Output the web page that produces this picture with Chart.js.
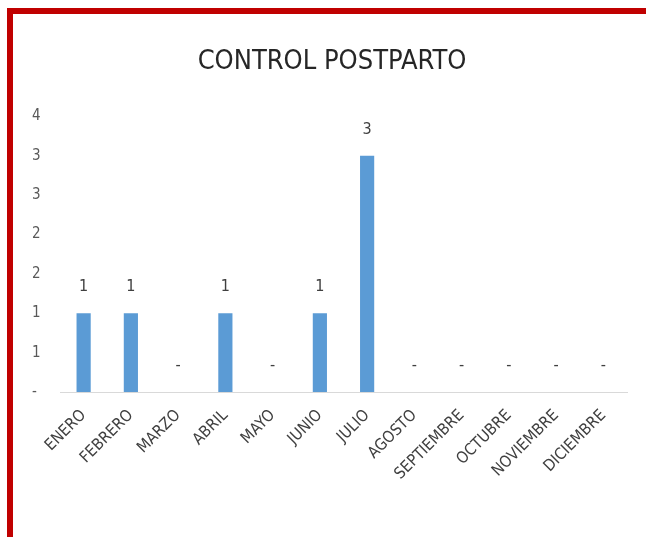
<!DOCTYPE html>
<html>
<head>
<meta charset="utf-8">
<script src="https://cdn.jsdelivr.net/npm/chart.js@4"></script>
<style>
  html, body { margin: 0; padding: 0; background: #fff; }
  #frame {
    position: absolute; left: 7px; top: 8px; width: 639px; height: 529px;
    border-left: 6px solid #c00000; border-top: 6px solid #c00000;
    box-sizing: border-box;
  }
  #wrap { position: absolute; left: 0; top: 0; width: 646px; height: 537px; }
</style>
</head>
<body>
<div id="frame"></div>
<div id="wrap"><canvas id="chart" width="646" height="537"></canvas></div>
<script>
const months = ['ENERO', 'FEBRERO', 'MARZO', 'ABRIL', 'MAYO', 'JUNIO', 'JULIO',
  'AGOSTO', 'SEPTIEMBRE', 'OCTUBRE', 'NOVIEMBRE', 'DICIEMBRE'];
const controls = [1, 1, 0, 1, 0, 1, 3, 0, 0, 0, 0, 0];
const chartTitle = 'CONTROL POSTPARTO';

const FONT = "'DejaVu Sans Condensed', 'Liberation Sans Narrow', 'Open Sans', sans-serif";

// draw the value over each bar, '-' for zero like Excel does
const valueLabels = {
  id: 'valueLabels',
  afterDatasetsDraw(chart) {
    const ctx = chart.ctx;
    const meta = chart.getDatasetMeta(0);
    ctx.save();
    ctx.font = '16px ' + FONT;
    ctx.fillStyle = '#404040';
    ctx.textAlign = 'center';
    ctx.textBaseline = 'middle';
    meta.data.forEach((bar, i) => {
      const v = controls[i];
      ctx.fillText(v === 0 ? '-' : String(v), bar.x, bar.y - 26);
    });
    ctx.restore();
  }
};

new Chart(document.getElementById('chart'), {
  type: 'bar',
  data: {
    labels: months,
    datasets: [{
      data: controls,
      backgroundColor: '#5b9bd5',
      categoryPercentage: 1,
      barPercentage: 0.3
    }]
  },
  options: {
    responsive: false,
    animation: false,
    layout: { padding: { left: 37, right: 19 } },
    plugins: {
      legend: { display: false },
      tooltip: { enabled: false },
      title: {
        display: true,
        text: chartTitle,
        color: '#262626',
        font: { family: FONT, size: 27, weight: 'normal' },
        padding: { top: 46, bottom: 38 }
      }
    },
    scales: {
      x: {
        grid: { display: false, drawTicks: false },
        border: { color: '#d9d9d9', width: 1 },
        ticks: {
          color: '#404040',
          font: { family: FONT, size: 16 },
          minRotation: 45,
          maxRotation: 45,
          padding: 14,
          autoSkip: false
        },
        afterFit(scale) { scale.height = 145; }
      },
      y: {
        min: 0,
        max: 3.5,
        grid: { display: false, drawTicks: false },
        border: { display: false },
        ticks: {
          stepSize: 0.5,
          color: '#595959',
          font: { family: FONT, size: 15 },
          // mirror keeps the labels from being clipped to the narrow axis box
          mirror: true,
          padding: -28,
          callback: v => v === 0 ? '-' : Math.round(v)
        },
        afterFit(scale) { scale.width = 23; }
      }
    }
  },
  plugins: [valueLabels]
});
</script>
</body>
</html>
